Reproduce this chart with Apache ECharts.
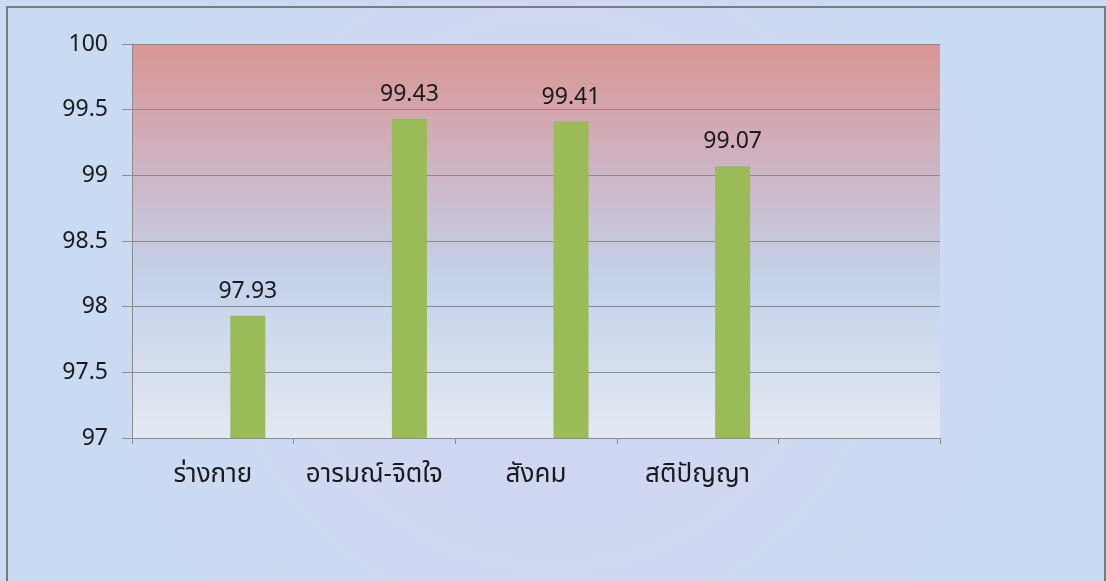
<!DOCTYPE html>
<html lang="th">
<head>
    <meta charset="UTF-8"/>
    <title>ร้อยละพัฒนาการ</title>
    <script src="https://cdn.jsdelivr.net/npm/echarts@6/dist/echarts.min.js"></script>
    <style>
        html, body { margin: 0; padding: 0; background: #cdd6f0; }
        #main { width: 1107px; height: 581px; }
    </style>
</head>
<body>
<div id="main"></div>
<script type="text/javascript">
    // หมวดพัฒนาการ (ช่องสุดท้ายว่าง)
    var categories = ['ร่างกาย', 'อารมณ์-จิตใจ', 'สังคม', 'สติปัญญา', ''];
    // ค่าร้อยละ
    var scores = [97.93, 99.43, 99.41, 99.07, null];
    // ชุดข้อมูลว่างสองชุดที่อยู่ก่อนแท่งสีเขียว
    var emptyA = [null, null, null, null, null];
    var emptyB = [null, null, null, null, null];
    var yMin = 97, yMax = 100, yStep = 0.5;

    var font = '"Noto Sans", "Noto Sans Thai", "Liberation Sans", sans-serif';
    var myChart = echarts.init(document.getElementById('main'));

    var option = {
        backgroundColor: {
            type: 'radial', x: 0.5, y: 0.5, r: 0.8,
            colorStops: [
                {offset: 0, color: '#cdd3f0'},
                {offset: 0.6, color: '#d0d8f2'},
                {offset: 1, color: '#c9dbf2'}
            ]
        },
        animation: false,
        graphic: [
            {
                type: 'rect',
                shape: {x: 7, y: 7, width: 1098, height: 590},
                style: {fill: 'none', stroke: '#7a7a7a', lineWidth: 2}
            }
        ],
        grid: {
            left: 132,
            right: 167,
            top: 44,
            bottom: 143,
            show: true,
            borderWidth: 0,
            backgroundColor: {
                type: 'linear', x: 0, y: 0, x2: 0, y2: 1,
                colorStops: [
                    {offset: 0, color: '#d99592'},
                    {offset: 0.3, color: '#cfb3c2'},
                    {offset: 0.6, color: '#c4d2ea'},
                    {offset: 1, color: '#e3e9f3'}
                ]
            }
        },
        xAxis: {
            type: 'category',
            data: categories,
            axisLine: {show: true, lineStyle: {color: '#8c8c8c', width: 1}},
            axisTick: {show: true, interval: 0, length: 6, alignWithLabel: false, lineStyle: {color: '#8c8c8c'}},
            axisLabel: {
                interval: 0,
                margin: 24,
                fontSize: 26,
                color: '#1a1a1a',
                fontFamily: font
            },
            splitLine: {show: false}
        },
        yAxis: {
            type: 'value',
            min: yMin,
            max: yMax,
            interval: yStep,
            axisLine: {show: true, lineStyle: {color: '#8c8c8c', width: 1}},
            axisTick: {show: true, length: 10, inside: false, lineStyle: {color: '#8c8c8c'}},
            axisLabel: {
                margin: 24,
                fontSize: 23,
                color: '#1a1a1a',
                fontFamily: font
            },
            splitLine: {show: true, lineStyle: {color: '#8a8a8a', width: 1}}
        },
        series: [
            {type: 'bar', data: emptyA, barGap: '0%', barCategoryGap: '35%'},
            {type: 'bar', data: emptyB, barGap: '0%', barCategoryGap: '35%'},
            {
                type: 'bar',
                data: scores,
                barGap: '0%',
                barCategoryGap: '35%',
                itemStyle: {color: '#9bbb59'},
                label: {
                    show: true,
                    position: 'top',
                    distance: 13,
                    fontSize: 23,
                    color: '#1a1a1a',
                    fontFamily: font
                }
            }
        ]
    };
    myChart.setOption(option);
</script>
</body>
</html>
